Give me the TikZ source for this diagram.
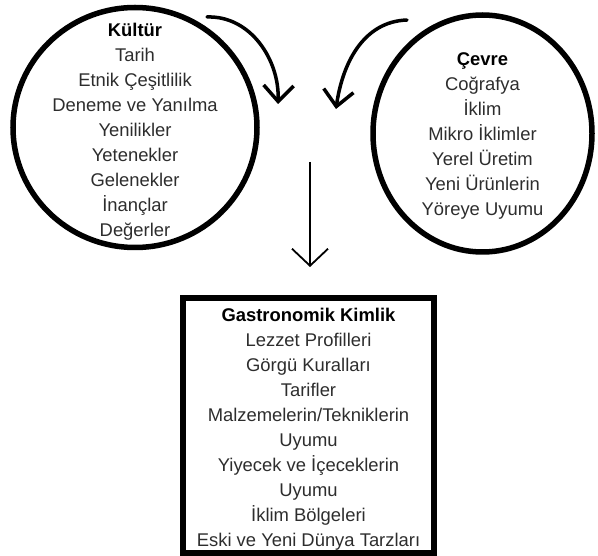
\documentclass[tikz,border=0pt]{standalone}
\usepackage{fontspec}
\setmainfont{Liberation Sans}
\usetikzlibrary{arrows.meta,shapes.geometric}
\definecolor{text_gray}{RGB}{45,45,45}

\begin{document}
\begin{tikzpicture}[x=1pt,y=-1pt,semithick]
    \tikzstyle{ring}=[draw=black, line width=5.5pt, ellipse, inner sep=0pt]
    \tikzstyle{list}=[align=center, text=text_gray, font=\fontsize{18.4}{25}\selectfont]
    \tikzstyle{frame}=[draw=black, line width=5.5pt, rectangle, inner sep=0pt]
    \tikzstyle{curl}=[-{Straight Barb[length=16pt,width=30pt]}, line width=3.5pt, line cap=round]
    \tikzstyle{drop}=[-{Straight Barb[length=17pt,width=36pt]}, line width=1.8pt]

    \useasboundingbox (0,0) rectangle (598,556);

    % circles and box
    \node[ring, minimum width=244pt, minimum height=240pt] (kultur_ring) at (135,127.5) {};
    \node[ring, minimum width=219pt, minimum height=237pt] (cevre_ring)  at (482.5,133.5) {};
    \node[frame, minimum width=251pt, minimum height=255pt] (kimlik) at (308.5,425.5) {};

    \node[list, yshift=-4pt] (kultur) at (kultur_ring.center) {\textbf{\color{black}Kültür}\\Tarih\\Etnik Çeşitlilik\\Deneme ve Yanılma\\Yenilikler\\Yetenekler\\Gelenekler\\İnançlar\\Değerler};
    \node[list, yshift=-2pt] (cevre) at (cevre_ring.center) {\textbf{\color{black}Çevre}\\Coğrafya\\İklim\\Mikro İklimler\\Yerel Üretim\\Yeni Ürünlerin\\Yöreye Uyumu};
    \node[list, yshift=-4pt] (kimlik_text) at (kimlik.center) {\textbf{\color{black}Gastronomik Kimlik}\\Lezzet Profilleri\\Görgü Kuralları\\Tarifler\\Malzemelerin/Tekniklerin\\Uyumu\\Yiyecek ve İçeceklerin\\Uyumu\\İklim Bölgeleri\\Eski ve Yeni Dünya Tarzları};

    % arrow ends
    \coordinate (k_from) at (207,17);
    \coordinate (k_to)   at (278,104);
    \coordinate (c_from) at (407,20);
    \coordinate (c_to)   at (336,109);
    \coordinate (m_from) at (310,162);
    \coordinate (m_to)   at (310,267);

    \draw[curl] (k_from) to[out=2,in=88] (k_to);
    \draw[curl] (c_from) to[out=182,in=82] (c_to);
    \draw[drop] (m_from) -- (m_to);
\end{tikzpicture}
\end{document}
